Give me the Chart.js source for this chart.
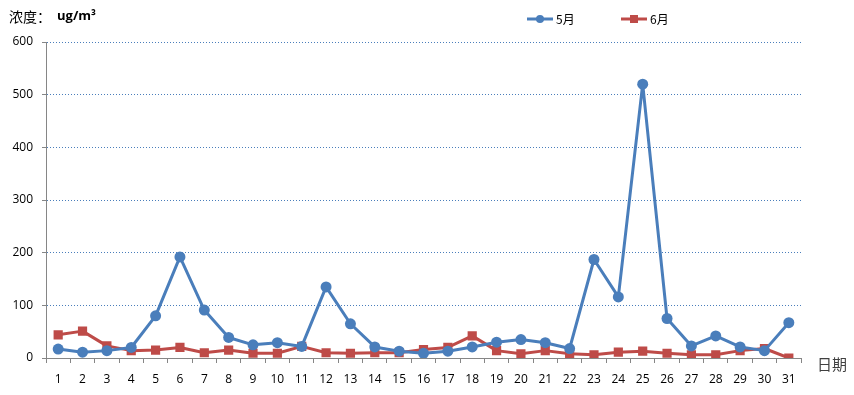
<!DOCTYPE html>
<html><head><meta charset="utf-8">
<script src="https://cdn.jsdelivr.net/npm/chart.js@4/dist/chart.umd.min.js"></script>
<style>html,body{margin:0;padding:0;background:#fff}#wrap{width:854px;height:395px;position:relative}</style>
</head><body><div id="wrap"><canvas id="c" width="854" height="395"></canvas></div>
<script>
const days = ['1','2','3','4','5','6','7','8','9','10','11','12','13','14','15','16','17','18','19','20','21','22','23','24','25','26','27','28','29','30','31'];
const may = [17,11,14,20,80,192,91,39,25,29,22,135,65,21,13,9,13,21,30,35,29,18,187,116,520,75,23,42,21,14,67];
const june = [44,51,23,14,15,20,10,15,9,9,22,10,9,10,10,16,20,42,14,8,14,8,6,11,13,9,6,6,14,18,0];
const seriesNames = ['5月','6月'];
const yTicks = [0,100,200,300,400,500,600];
const titleText = '浓度：';
const unitText = 'ug/m³';
const xTitle = '日期';

const BLUE = '#4A7EBB', RED = '#BE4B48', AXIS = '#868686';

const textPlugin = {
  id: 'texts',
  afterDraw(chart) {
    const ctx = chart.ctx;
    ctx.save();
    ctx.textBaseline = 'middle';
    ctx.fillStyle = '#000';
    ctx.font = '14px "Noto Sans CJK SC"';
    ctx.fillText(titleText, 9, 17);
    ctx.font = 'bold 13px "Open Sans"';
    ctx.fillText(unitText, 57, 16);
    // legend
    const items = [{x:527, c:BLUE, s:'circle'}, {x:621, c:RED, s:'rect'}];
    items.forEach((it, i) => {
      ctx.strokeStyle = it.c; ctx.lineWidth = 3;
      ctx.beginPath(); ctx.moveTo(it.x, 19); ctx.lineTo(it.x + 26, 19); ctx.stroke();
      ctx.fillStyle = it.c;
      if (it.s === 'circle') { ctx.beginPath(); ctx.arc(it.x + 13, 19, 4, 0, Math.PI*2); ctx.fill(); }
      else ctx.fillRect(it.x + 13 - 4, 15, 8, 8);
      ctx.fillStyle = '#000';
      ctx.font = '12px "Noto Sans CJK SC"';
      ctx.fillText(seriesNames[i], it.x + 29, 19);
    });
    ctx.fillStyle = '#404040';
    ctx.font = '15px "Noto Sans CJK SC"';
    ctx.fillText(xTitle, 817, 364);
    ctx.restore();
  }
};

new Chart(document.getElementById('c'), {
  type: 'line',
  data: {
    labels: days,
    datasets: [
      {label: seriesNames[0], data: may, borderColor: BLUE, backgroundColor: BLUE, borderWidth: 3,
       borderJoinStyle: 'round', pointStyle: 'circle', pointRadius: 5.5, pointBorderWidth: 0, tension: 0},
      {label: seriesNames[1], data: june, borderColor: RED, backgroundColor: RED, borderWidth: 3,
       borderJoinStyle: 'round', pointStyle: 'rect', pointRadius: 6.5, pointBorderWidth: 0, tension: 0}
    ]
  },
  options: {
    responsive: false,
    animation: false,
    events: [],
    layout: {padding: {top: 42, right: 53, left: 0, bottom: 0}},
    plugins: {legend: {display: false}, tooltip: {enabled: false}, title: {display: false}},
    scales: {
      x: {
        offset: true,
        grid: {offset: true, drawOnChartArea: false, tickLength: 5, tickColor: AXIS, color: AXIS},
        border: {color: AXIS, width: 1},
        ticks: {padding: 9, color: '#000', font: {family: 'Open Sans', size: 12}, maxRotation: 0, autoSkip: false},
        afterFit(s) { s.height = 37; }
      },
      y: {
        min: 0, max: 600,
        afterBuildTicks(s) { s.ticks = yTicks.map(v => ({value: v})); },
        grid: {color: ctx => ctx.tick && ctx.tick.value === 0 ? 'rgba(0,0,0,0)' : BLUE, lineWidth: 1,
               tickLength: 4, tickColor: AXIS},
        border: {color: AXIS, width: 1, dash: [1, 2]},
        ticks: {padding: 9, color: '#000', font: {family: 'Open Sans', size: 12}},
        afterFit(s) { s.width = 46; }
      }
    }
  },
  plugins: [textPlugin]
});
</script></body></html>
